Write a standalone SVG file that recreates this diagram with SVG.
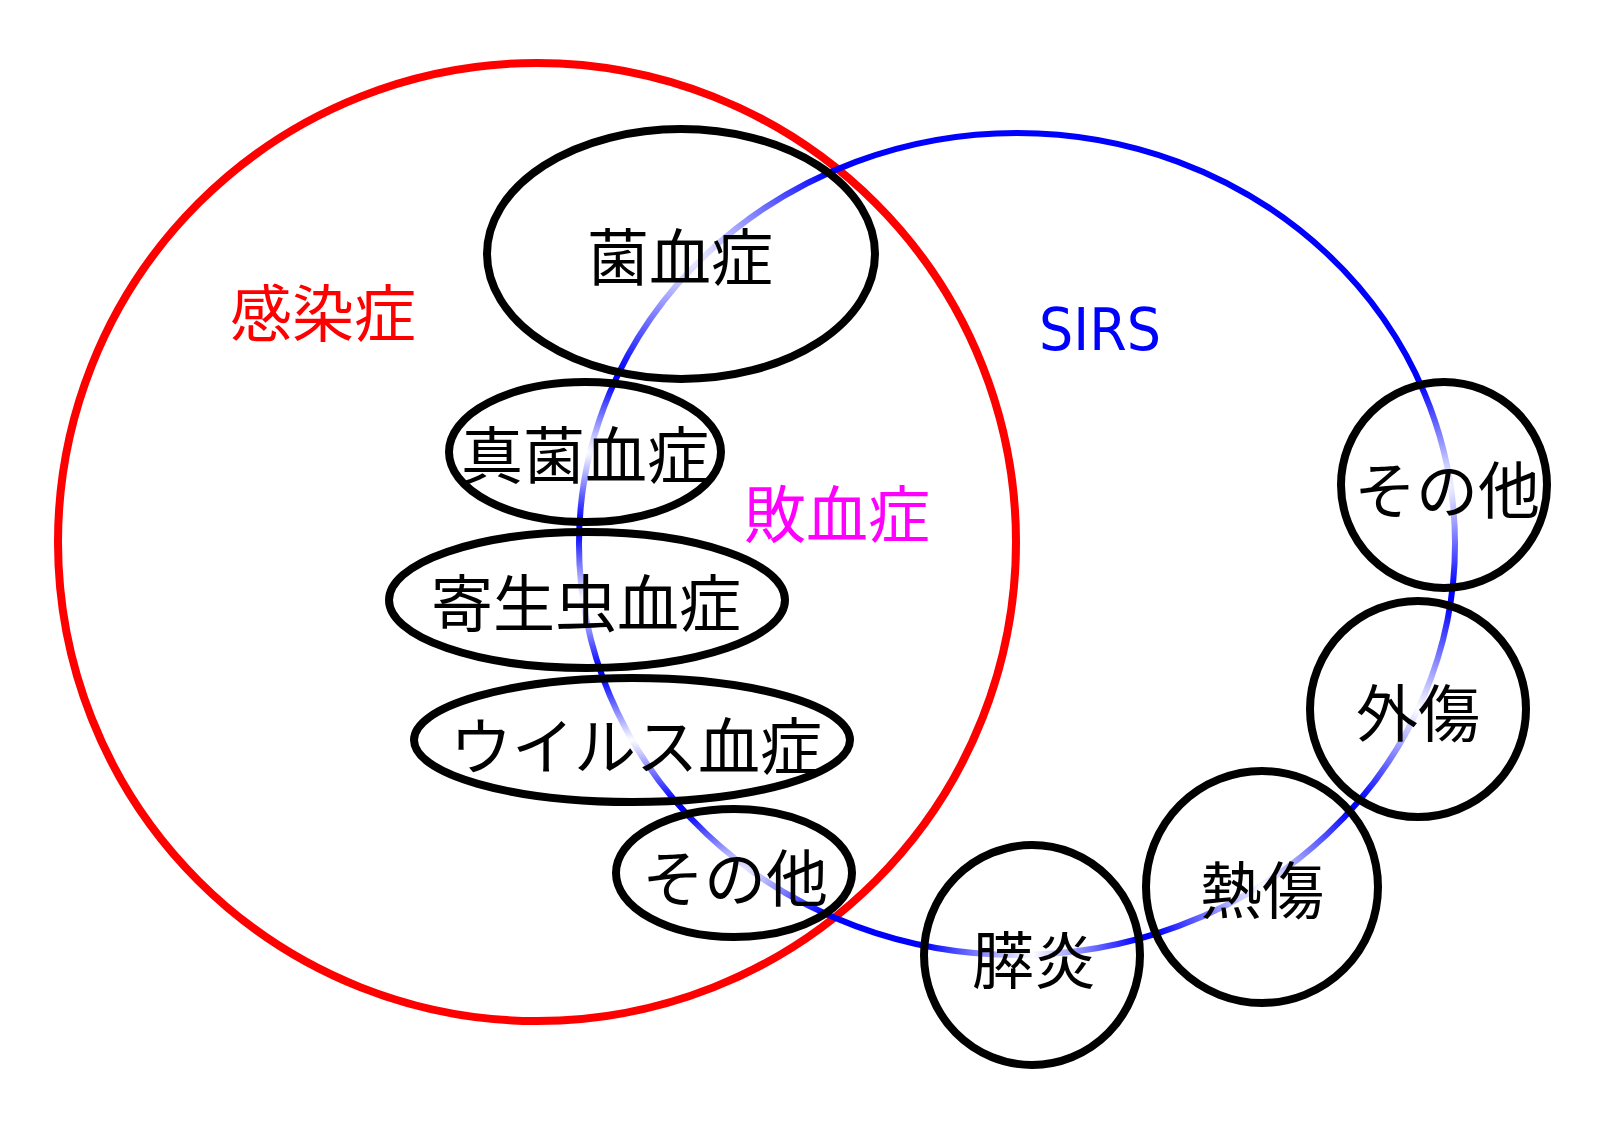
<svg xmlns="http://www.w3.org/2000/svg" width="1600" height="1132" viewBox="0 0 1600 1132">
<defs>
<radialGradient id="fade" cx="0.5" cy="0.5" r="0.5">
<stop offset="0" stop-color="#ffffff" stop-opacity="1"/>
<stop offset="1" stop-color="#ffffff" stop-opacity="0"/>
</radialGradient>
</defs>
<style>
.node ellipse{fill:url(#fade);stroke:#000;stroke-width:8}
.node text,.lbl{font-family:"Noto Sans CJK JP","Noto Sans CJK SC",sans-serif;font-size:62px;text-anchor:middle}
.node text{fill:#000}
</style>
<rect width="1600" height="1132" fill="#ffffff"/>
<g id="sets">
<circle id="infection" cx="537" cy="542" r="479" fill="none" stroke="#ff0000" stroke-width="8"/>
<ellipse id="sirs" cx="1017" cy="544" rx="438" ry="411" fill="none" stroke="#0000ff" stroke-width="6"/>
</g>
<g id="labels">
<text class="lbl" x="323" y="337" fill="#ff0000">感染症</text>
<text class="lbl" x="837" y="538" fill="#ff00ff">敗血症</text>
<text x="1100" y="350" fill="#0000ff" font-family="DejaVu Sans, sans-serif" font-size="58" text-anchor="middle" textLength="122" lengthAdjust="spacingAndGlyphs">SIRS</text>
</g>
<g id="n1" class="node"><ellipse cx="681" cy="254" rx="194" ry="125"/><text x="680" y="281">菌血症</text></g>
<g id="n2" class="node"><ellipse cx="585" cy="452" rx="136" ry="70"/><text x="585" y="479">真菌血症</text></g>
<g id="n3" class="node"><ellipse cx="587" cy="600" rx="198" ry="68"/><text x="586" y="627">寄生虫血症</text></g>
<g id="n4" class="node"><ellipse cx="632" cy="740" rx="218" ry="62"/><text x="636" y="770">ウイルス血症</text></g>
<g id="n5" class="node"><ellipse cx="734" cy="873" rx="118" ry="64"/><text x="735" y="902">その他</text></g>
<g id="n6" class="node"><ellipse cx="1444" cy="485" rx="103" ry="103"/><text x="1447" y="514">その他</text></g>
<g id="n7" class="node"><ellipse cx="1418" cy="709" rx="108" ry="108"/><text x="1418" y="737">外傷</text></g>
<g id="n8" class="node"><ellipse cx="1262" cy="887" rx="116" ry="116"/><text x="1262" y="914">熱傷</text></g>
<g id="n9" class="node"><ellipse cx="1032" cy="955" rx="108" ry="110"/><text x="1034" y="984">膵炎</text></g>
<g id="connectors"></g>
</svg>
